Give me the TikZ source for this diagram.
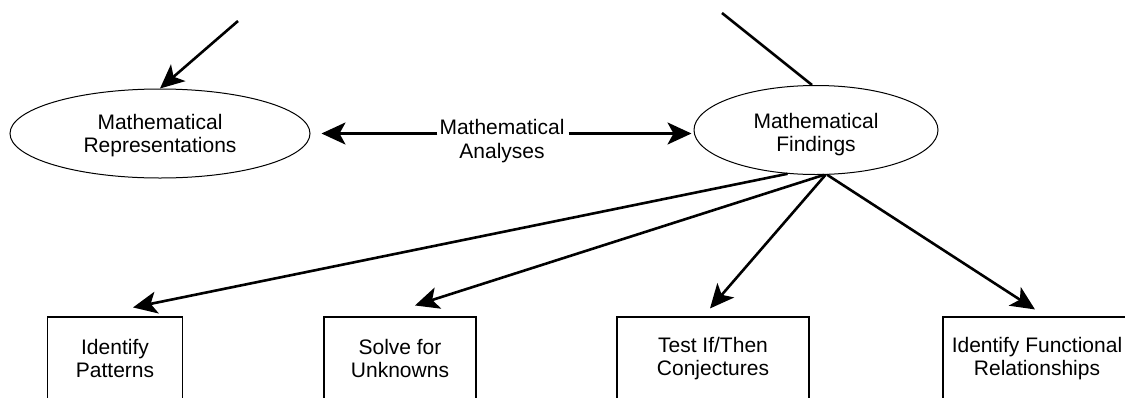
\documentclass[tikz,border=0pt]{standalone}
\usepackage{fontspec}
\setmainfont{Liberation Sans}
\usetikzlibrary{shapes.geometric,arrows.meta}
\begin{document}
\begin{tikzpicture}[x=1pt,y=-1pt,
  font=\fontsize{21}{23.5}\selectfont,
  ell/.style={draw, ellipse, line width=1pt, inner sep=0pt, align=center},
  boxnode/.style={draw, rectangle, line width=1.1pt, inner sep=0pt, align=center},
  lbl/.style={inner sep=0pt, align=center},
  arr/.style={line width=2.6pt, -{Stealth[length=24pt,width=22pt,inset=6pt]}},
  plain/.style={line width=2.6pt}]
\useasboundingbox (0,0) rectangle (1125,397);
\clip (0,0) rectangle (1125,397);

\node[ell, minimum width=300pt, minimum height=89pt] (L) at (160,133.5) {\rule{0pt}{19.5pt}Mathematical\\Representations};
\node[ell, minimum width=244pt, minimum height=89pt] (R) at (816,130) {\rule{0pt}{24pt}Mathematical\\Findings};
\node[lbl] (M) at (502,141) {Mathematical\\Analyses};

\node[boxnode, minimum width=135pt, minimum height=83pt] (B1) at (115,358.5) {Identify\\Patterns};
\node[boxnode, minimum width=152pt, minimum height=83pt] (B2) at (400,358.5) {Solve for\\Unknowns};
\node[boxnode, minimum width=192pt, minimum height=83pt] (B3) at (713,358.5) {Test If/Then\\Conjectures};
\node[boxnode, minimum width=188pt, minimum height=83pt] (B4) at (1037,358.5) {Identify Functional\\Relationships};

\coordinate (TL) at (238,21);
\coordinate (TR) at (722,13);

\draw[arr] (TL) -- (L.north);
\draw[plain] (TR) -- ([xshift=-4pt]R.north);

\draw[arr] ([xshift=-2pt]M.west |- L.east) -- ([xshift=11pt]L.east);
\draw[arr] ([xshift=4pt]M.east |- L.east) -- ([xshift=-2pt]R.west |- L.east);

\draw[arr] (R.-123) -- ([xshift=18pt,yshift=9pt]B1.north);
\draw[arr] (R.-80) -- ([xshift=15pt,yshift=11pt]B2.north);
\draw[arr] (R.-78) -- ([xshift=-3pt,yshift=8pt]B3.north);
\draw[arr] (R.-76) -- ([xshift=-2pt,yshift=7pt]B4.north);
\end{tikzpicture}
\end{document}
